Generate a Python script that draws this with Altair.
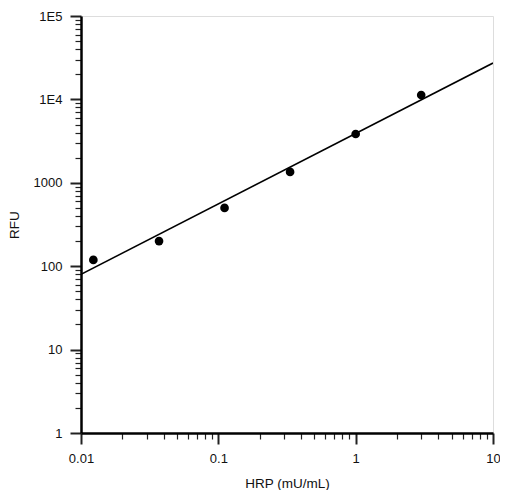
import altair as alt
import pandas as pd

hrp = [0.0123, 0.037, 0.111, 0.333, 1.0, 3.0]
rfu = [119, 200, 500, 1350, 3850, 11300]

fit_x = [0.01, 10]
fit_y = [80, 27300]

x_ticks = [m * 10 ** e for e in (-2, -1, 0) for m in range(1, 10)] + [10]
y_ticks = [m * 10 ** e for e in range(0, 5) for m in range(1, 10)] + [100000]

pts = pd.DataFrame({"x": hrp, "y": rfu})
fit = pd.DataFrame({"x": fit_x, "y": fit_y})

is_major = "abs(log(datum.value)/LN10 - round(log(datum.value)/LN10)) < 1e-6"

font = "Liberation Sans"

xscale = alt.Scale(type="log", domain=[0.01, 10], nice=False)
yscale = alt.Scale(type="log", domain=[1, 100000], nice=False)

xaxis = alt.Axis(
    values=x_ticks,
    title="HRP (mU/mL)",
    grid=False,
    labelExpr=f"({is_major}) ? datum.label : ''",
    labelOverlap=False,
    labelFlush=False,
    tickSize={"condition": {"test": is_major, "value": 11}, "value": 6},
    tickWidth={"condition": {"test": is_major, "value": 2}, "value": 1.2},
    tickColor="#222",
    domainColor="black",
    domainWidth=2.5,
    labelFont=font,
    labelFontSize=13,
    labelColor="#111",
    labelPadding=8,
    titleFont=font,
    titleFontSize=13.5,
    titleFontWeight="normal",
    titleColor="#111",
    titlePadding=11,
)

yaxis = alt.Axis(
    values=y_ticks,
    title="RFU",
    grid=False,
    labelExpr=(
        f"({is_major}) ? (datum.value == 10000 ? '1E4' : (datum.value == 100000 ? '1E5' : "
        "format(datum.value, 'd'))) : ''"
    ),
    labelOverlap=False,
    labelFlush=False,
    tickSize={"condition": {"test": is_major, "value": 11}, "value": 6},
    tickWidth={"condition": {"test": is_major, "value": 2}, "value": 1.2},
    tickColor="#222",
    domainColor="black",
    domainWidth=2.5,
    labelFont=font,
    labelFontSize=13,
    labelColor="#111",
    labelPadding=8,
    titleFont=font,
    titleFontSize=13.5,
    titleFontWeight="normal",
    titleColor="#111",
    titlePadding=12,
)

line = alt.Chart(fit).mark_line(color="black", strokeWidth=1.6, clip=True).encode(
    x=alt.X("x:Q", scale=xscale, axis=xaxis),
    y=alt.Y("y:Q", scale=yscale, axis=yaxis),
)

points = alt.Chart(pts).mark_circle(color="black", size=75, opacity=1).encode(
    x=alt.X("x:Q", scale=xscale),
    y=alt.Y("y:Q", scale=yscale),
)

chart = (
    alt.layer(line, points)
    .properties(
        width=412,
        height=417,
        autosize=alt.AutoSizeParams(type="none"),
        padding={"left": 73, "top": 8, "right": 7, "bottom": 57},
    )
    .configure_view(stroke="#777", strokeWidth=1)
    .configure(background="white")
)

chart.save("out.html", embed_options={"renderer": "svg", "actions": False})
